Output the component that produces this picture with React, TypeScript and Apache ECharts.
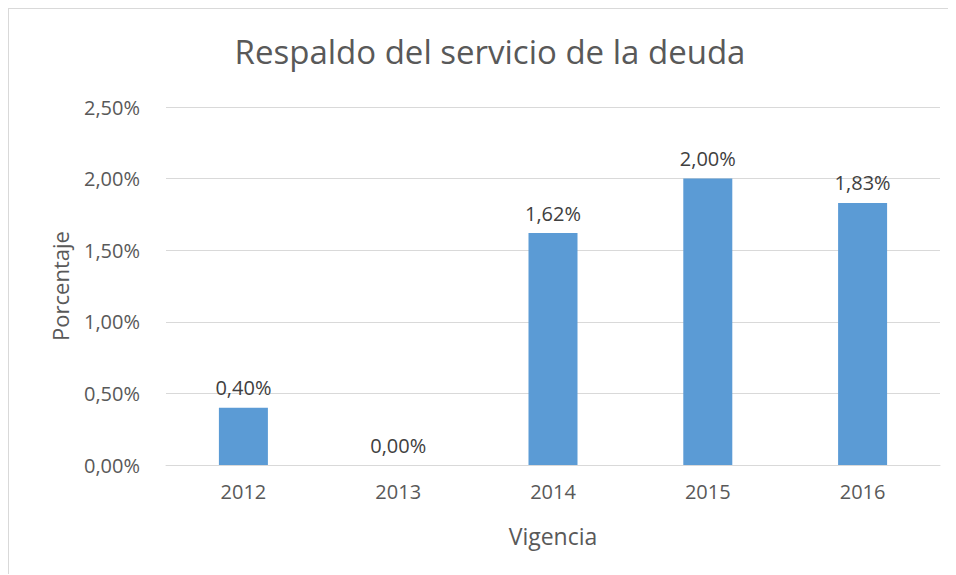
import React, { useEffect, useRef } from "react";
import * as echarts from "echarts";

const categories = ["2012", "2013", "2014", "2015", "2016"];
const values = [0.4, 0.0, 1.62, 2.0, 1.83];
const yTicks = { min: 0, max: 2.5, interval: 0.5 };
const titleText = "Respaldo del servicio de la deuda";
const yName = "Porcentaje";
const xName = "Vigencia";

const fmt = (v: number) => v.toFixed(2).replace(".", ",") + "%";
const FONT = "'Open Sans', sans-serif";

export default function App() {
  const ref = useRef<HTMLDivElement>(null);
  useEffect(() => {
    if (!ref.current) return;
    const chart = echarts.init(ref.current, undefined, { renderer: "svg" });
    chart.setOption({
      animation: false,
      backgroundColor: "#ffffff",
      textStyle: { fontFamily: FONT },
      title: {
        text: titleText,
        left: 476,
        textAlign: "center",
        top: 21,
        textStyle: { fontFamily: FONT, fontSize: 33, fontWeight: "normal", color: "#595959" },
      },
      grid: { left: 157, right: 14, top: 98, bottom: 109 },
      xAxis: {
        type: "category",
        data: categories,
        name: xName,
        nameLocation: "middle",
        nameGap: 59,
        nameTextStyle: { fontFamily: FONT, fontSize: 23, color: "#595959" },
        axisLine: { lineStyle: { color: "#d9d9d9", width: 1 } },
        axisTick: { show: false },
        axisLabel: { fontFamily: FONT, fontSize: 20, color: "#595959", margin: 16 },
      },
      yAxis: {
        type: "value",
        min: yTicks.min,
        max: yTicks.max,
        interval: yTicks.interval,
        name: yName,
        nameLocation: "middle",
        nameRotate: 90,
        nameGap: 95,
        nameTextStyle: { fontFamily: FONT, fontSize: 22, color: "#595959" },
        axisLine: { show: false },
        axisTick: { show: false },
        splitLine: { lineStyle: { color: "#d9d9d9", width: 1 } },
        axisLabel: { fontFamily: FONT, fontSize: 20, color: "#595959", margin: 26, formatter: (v: number) => fmt(v) },
      },
      series: [
        {
          type: "bar",
          data: values,
          barWidth: 49,
          itemStyle: { color: "#5b9bd5" },
          label: {
            show: true,
            position: "top",
            distance: 10,
            fontFamily: FONT,
            fontSize: 20,
            color: "#404040",
            formatter: (p: any) => fmt(p.value),
          },
        },
      ],
    });
    return () => chart.dispose();
  }, []);
  return (
    <div
      ref={ref}
      style={{
        width: 946,
        height: 566,
        boxSizing: "border-box",
        borderTop: "1px solid #d9d9d9",
        borderLeft: "1px solid #d9d9d9",
      }}
    />
  );
}
